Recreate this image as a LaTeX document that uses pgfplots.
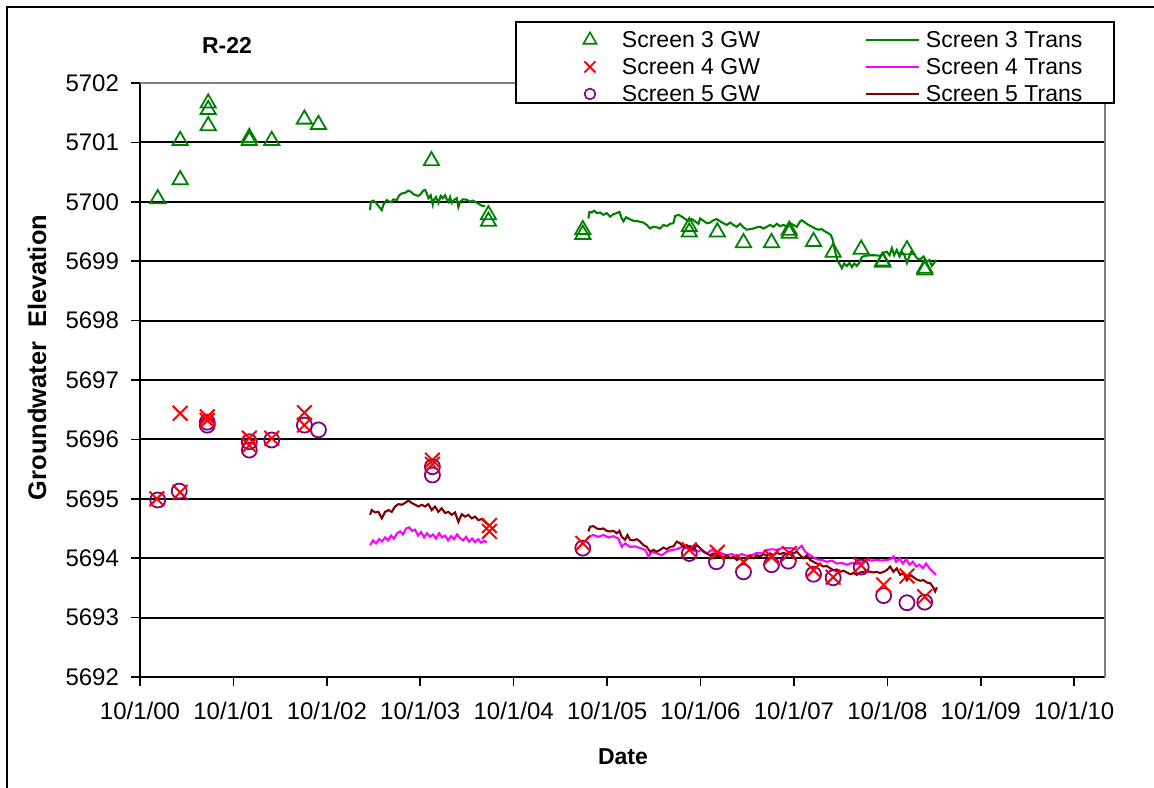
\documentclass[border=0pt]{standalone}
\usepackage{pgfplots}
\pgfplotsset{compat=1.18}
\usepackage{fontspec}
\setmainfont{Liberation Sans}
\definecolor{s3}{RGB}{0,128,0}
\definecolor{s4}{RGB}{255,0,0}
\definecolor{s5}{RGB}{128,0,128}
\definecolor{t4}{RGB}{255,0,255}
\definecolor{t5}{RGB}{128,0,0}
\definecolor{bord}{RGB}{128,128,128}
\newcommand{\tfont}{\fontsize{11.5}{13}\selectfont}
\newcommand{\kfont}{\fontsize{12}{14}\selectfont}

\pgfplotstableread{
x y
0.19 5700.05
0.43 5700.37
0.43 5701.03
0.73 5701.28
0.73 5701.55
0.73 5701.66
1.17 5701.08
1.17 5701.03
1.41 5701.03
1.76 5701.39
1.91 5701.30
3.12 5700.69
3.73 5699.78
3.73 5699.67
4.74 5699.53
4.74 5699.45
5.88 5699.58
5.88 5699.49
6.18 5699.49
6.46 5699.31
6.76 5699.31
6.95 5699.52
6.95 5699.47
7.21 5699.33
7.42 5699.15
7.72 5699.20
7.95 5699.00
7.95 5698.98
8.21 5699.19
8.40 5698.88
8.40 5698.85
}\sthreegw

\pgfplotstableread{
x y
0.18 5695.00
0.43 5696.44
0.43 5695.11
0.72 5696.38
0.72 5696.32
1.17 5696.02
1.17 5695.90
1.41 5696.02
1.76 5696.45
1.76 5696.24
3.13 5695.65
3.13 5695.58
3.74 5694.55
3.74 5694.45
4.74 5694.25
5.88 5694.14
6.18 5694.10
6.46 5693.94
6.76 5694.02
6.95 5694.08
7.21 5693.80
7.42 5693.68
7.72 5693.88
7.96 5693.55
8.21 5693.70
8.40 5693.35
}\sfourgw

\pgfplotstableread{
x y
0.19 5694.98
0.42 5695.13
0.72 5696.29
0.72 5696.24
1.17 5695.96
1.17 5695.82
1.41 5695.99
1.76 5696.24
1.91 5696.16
3.13 5695.54
3.13 5695.40
4.74 5694.17
5.88 5694.08
6.17 5693.94
6.46 5693.77
6.76 5693.89
6.94 5693.95
7.21 5693.73
7.42 5693.67
7.72 5693.85
7.96 5693.37
8.21 5693.25
8.40 5693.26
}\sfivegw

\pgfplotstableread{
x y
2.463 5699.86
2.470 5700.00
2.498 5700.02
2.527 5699.98
2.552 5699.93
2.588 5699.86
2.605 5699.95
2.641 5700.03
2.669 5700.00
2.695 5700.00
2.712 5700.04
2.748 5700.03
2.776 5700.11
2.802 5700.14
2.837 5700.15
2.873 5700.19
2.898 5700.17
2.926 5700.13
2.955 5700.11
2.980 5700.10
3.005 5700.13
3.033 5700.19
3.051 5700.20
3.070 5700.14
3.087 5700.06
3.112 5700.11
3.134 5699.95
3.148 5700.04
3.169 5700.08
3.194 5699.98
3.219 5700.10
3.241 5700.06
3.266 5700.11
3.284 5700.04
3.301 5700.00
3.319 5700.08
3.337 5699.98
3.362 5700.03
3.391 5700.06
3.408 5699.91
3.426 5700.00
3.455 5700.04
3.480 5700.04
3.504 5700.03
3.533 5700.00
3.562 5700.02
3.587 5700.00
3.611 5699.98
3.640 5699.95
3.669 5699.93
3.694 5699.93
}\sthreetransA

\pgfplotstableread{
x y
4.800 5699.72
4.811 5699.83
4.836 5699.82
4.861 5699.85
4.890 5699.81
4.925 5699.82
4.961 5699.78
4.996 5699.81
5.032 5699.75
5.068 5699.79
5.104 5699.81
5.132 5699.83
5.157 5699.72
5.175 5699.67
5.203 5699.74
5.239 5699.71
5.282 5699.68
5.336 5699.67
5.389 5699.65
5.425 5699.61
5.460 5699.55
5.496 5699.58
5.532 5699.57
5.567 5699.55
5.603 5699.61
5.639 5699.59
5.675 5699.63
5.710 5699.64
5.728 5699.76
5.764 5699.78
5.800 5699.75
5.835 5699.71
5.871 5699.68
5.907 5699.71
5.942 5699.67
5.978 5699.63
5.996 5699.72
6.031 5699.68
6.067 5699.64
6.103 5699.65
6.139 5699.69
6.174 5699.71
6.210 5699.67
6.245 5699.64
6.281 5699.61
6.317 5699.65
6.352 5699.61
6.388 5699.58
6.424 5699.63
6.460 5699.57
6.495 5699.53
6.531 5699.54
6.567 5699.55
6.603 5699.57
6.638 5699.58
6.674 5699.55
6.710 5699.58
6.745 5699.61
6.781 5699.58
6.817 5699.63
6.852 5699.59
6.888 5699.61
6.924 5699.58
6.959 5699.64
6.995 5699.61
7.031 5699.58
7.066 5699.67
7.084 5699.69
7.120 5699.65
7.155 5699.61
7.192 5699.58
7.227 5699.55
7.262 5699.53
7.298 5699.54
7.334 5699.50
7.369 5699.47
7.395 5699.44
7.416 5699.36
7.441 5699.16
7.470 5698.99
7.495 5698.94
7.513 5698.88
7.537 5698.96
7.566 5698.92
7.594 5698.97
7.620 5698.90
7.645 5698.96
7.673 5698.92
7.698 5698.97
7.727 5699.07
7.762 5699.09
7.816 5699.10
7.869 5699.10
7.923 5699.09
7.959 5699.14
7.994 5699.16
8.023 5699.10
8.048 5699.22
8.073 5699.10
8.101 5699.19
8.130 5699.08
8.155 5699.16
8.183 5699.10
8.209 5698.97
8.237 5699.09
8.262 5699.18
8.287 5699.12
8.316 5699.05
8.351 5699.03
8.387 5699.08
8.423 5698.99
8.451 5699.02
8.476 5698.92
8.501 5698.97
8.522 5699.02
}\sthreetransB

\pgfplotstableread{
x y
2.463 5694.22
2.495 5694.30
2.527 5694.25
2.559 5694.32
2.591 5694.28
2.623 5694.35
2.655 5694.30
2.687 5694.38
2.719 5694.33
2.752 5694.42
2.784 5694.45
2.816 5694.40
2.848 5694.50
2.880 5694.52
2.912 5694.46
2.944 5694.48
2.976 5694.38
3.009 5694.44
3.041 5694.35
3.073 5694.42
3.105 5694.36
3.137 5694.40
3.169 5694.33
3.201 5694.42
3.233 5694.35
3.266 5694.38
3.298 5694.30
3.330 5694.37
3.362 5694.32
3.394 5694.40
3.426 5694.34
3.458 5694.30
3.490 5694.36
3.522 5694.28
3.555 5694.33
3.587 5694.27
3.619 5694.32
3.651 5694.26
3.683 5694.29
3.715 5694.27
}\sfourtransA

\pgfplotstableread{
x y
4.783 5694.33
4.818 5694.37
4.853 5694.39
4.907 5694.36
4.961 5694.39
5.014 5694.35
5.068 5694.37
5.121 5694.33
5.157 5694.19
5.193 5694.25
5.246 5694.19
5.300 5694.20
5.353 5694.17
5.407 5694.14
5.443 5694.03
5.478 5694.11
5.532 5694.08
5.586 5694.05
5.639 5694.11
5.693 5694.14
5.746 5694.15
5.800 5694.19
5.853 5694.17
5.907 5694.14
5.961 5694.11
6.014 5694.14
6.067 5694.08
6.121 5694.14
6.174 5694.10
6.228 5694.08
6.281 5694.05
6.335 5694.07
6.388 5694.03
6.442 5694.07
6.495 5694.04
6.549 5694.05
6.603 5694.09
6.656 5694.08
6.710 5694.14
6.763 5694.15
6.817 5694.14
6.870 5694.17
6.924 5694.17
6.977 5694.17
7.031 5694.14
7.084 5694.21
7.120 5694.11
7.155 5694.07
7.192 5694.03
7.245 5693.98
7.298 5693.97
7.352 5693.94
7.406 5693.96
7.459 5693.91
7.513 5693.92
7.566 5693.89
7.620 5693.92
7.673 5693.90
7.727 5693.94
7.780 5693.97
7.834 5693.96
7.887 5693.97
7.941 5693.96
7.994 5693.97
8.030 5693.98
8.065 5694.03
8.094 5693.94
8.130 5694.00
8.166 5693.91
8.201 5693.98
8.237 5693.89
8.273 5693.94
8.308 5693.86
8.344 5693.89
8.380 5693.83
8.415 5693.91
8.451 5693.83
8.487 5693.77
8.522 5693.72
}\sfourtransB

\pgfplotstableread{
x y
2.463 5694.73
2.480 5694.81
2.516 5694.77
2.552 5694.78
2.588 5694.67
2.623 5694.78
2.659 5694.81
2.695 5694.78
2.730 5694.87
2.766 5694.91
2.802 5694.90
2.837 5694.93
2.873 5694.97
2.909 5694.93
2.944 5694.90
2.980 5694.87
3.016 5694.90
3.051 5694.87
3.087 5694.91
3.123 5694.81
3.158 5694.87
3.194 5694.78
3.230 5694.84
3.266 5694.76
3.301 5694.78
3.337 5694.73
3.373 5694.77
3.408 5694.61
3.444 5694.74
3.480 5694.70
3.515 5694.73
3.551 5694.67
3.587 5694.70
3.622 5694.64
3.658 5694.66
3.694 5694.61
3.729 5694.56
}\sfivetransA

\pgfplotstableread{
x y
4.800 5694.45
4.818 5694.53
4.853 5694.54
4.890 5694.50
4.925 5694.49
4.961 5694.50
4.996 5694.46
5.032 5694.45
5.068 5694.46
5.104 5694.42
5.132 5694.46
5.157 5694.36
5.193 5694.31
5.218 5694.39
5.246 5694.31
5.282 5694.30
5.318 5694.32
5.353 5694.28
5.389 5694.22
5.425 5694.19
5.460 5694.11
5.496 5694.14
5.532 5694.11
5.567 5694.14
5.603 5694.18
5.639 5694.15
5.675 5694.19
5.710 5694.20
5.746 5694.28
5.782 5694.25
5.817 5694.19
5.853 5694.22
5.889 5694.18
5.924 5694.15
5.961 5694.22
5.996 5694.17
6.031 5694.11
6.067 5694.08
6.103 5694.05
6.139 5694.08
6.174 5694.03
6.210 5694.04
6.245 5694.02
6.281 5694.05
6.317 5694.00
6.352 5694.02
6.388 5693.97
6.424 5694.00
6.460 5693.94
6.495 5693.98
6.531 5694.03
6.567 5694.00
6.603 5694.05
6.638 5694.03
6.674 5694.07
6.710 5694.04
6.745 5694.08
6.781 5694.05
6.817 5694.09
6.852 5694.07
6.888 5694.09
6.924 5694.07
6.959 5694.11
6.995 5694.08
7.031 5694.11
7.066 5694.05
7.102 5694.00
7.138 5694.05
7.173 5693.97
7.209 5693.94
7.245 5693.91
7.281 5693.89
7.316 5693.86
7.352 5693.87
7.388 5693.83
7.423 5693.80
7.459 5693.81
7.495 5693.77
7.530 5693.79
7.566 5693.76
7.602 5693.73
7.637 5693.75
7.673 5693.72
7.709 5693.76
7.744 5693.77
7.780 5693.79
7.816 5693.77
7.851 5693.76
7.887 5693.77
7.923 5693.75
7.959 5693.77
7.994 5693.80
8.030 5693.86
8.065 5693.77
8.101 5693.83
8.137 5693.72
8.172 5693.75
8.209 5693.63
8.244 5693.72
8.280 5693.68
8.316 5693.64
8.351 5693.62
8.387 5693.63
8.423 5693.59
8.458 5693.58
8.487 5693.52
8.512 5693.44
8.530 5693.51
}\sfivetransB

\begin{document}
\begin{tikzpicture}
\path[use as bounding box] (0,0) rectangle (577pt,393.5pt);
\draw[line width=1pt] (3.5pt,-2pt) -- (3.5pt,390pt) -- (580pt,390pt);
\begin{axis}[
  at={(70pt,55pt)}, anchor=south west, scale only axis,
  width=482.5pt, height=297pt,
  xmin=0, xmax=10.33, ymin=5692, ymax=5702,
  axis lines=left,
  axis line style={-, black, line width=1pt},
  x axis line style={line width=1.4pt},
  xtick={0,1,2,3,4,5,6,7,8,9,10},
  xticklabels={10/1/00,10/1/01,10/1/02,10/1/03,10/1/04,10/1/05,10/1/06,10/1/07,10/1/08,10/1/09,10/1/10},
  ytick={5692,5693,5694,5695,5696,5697,5698,5699,5700,5701},
  extra y ticks={5702},
  extra y tick style={grid=none},
  ymajorgrids,
  grid style={black, line width=1pt},
  tick align=outside,
  major tick length=4.5pt,
  tick style={black, line width=0.8pt},
  /pgf/number format/1000 sep={},
  /pgf/number format/assume math mode=true,
  tick label style={font=\kfont},
  x tick label style={yshift=-4.5pt},
  y tick label style={xshift=-2.5pt},
  legend columns=2,
  legend cell align=left,
  legend style={at={(0.3896,1.1027)}, anchor=north west, draw=black,
    line width=1pt, fill=white, inner sep=0pt, outer sep=0pt,
    row sep=0pt, column sep=0pt,
    nodes={draw=none, fill=none, inner sep=0pt, minimum height=0pt,
      text height=8.5pt, text depth=0.5pt, font=\tfont}},
  clip=false,
]
% Trans lines
\addplot[forget plot, s3, line width=1.05pt] table {\sthreetransA};
\addplot[forget plot, s3, line width=1.05pt] table {\sthreetransB};
\addplot[forget plot, t4, line width=1.05pt] table {\sfourtransA};
\addplot[forget plot, t4, line width=1.05pt] table {\sfourtransB};
\addplot[forget plot, t5, line width=1.05pt] table {\sfivetransA};
\addplot[forget plot, t5, line width=1.05pt] table {\sfivetransB};
% GW markers
\addplot[forget plot, only marks, mark=o, mark size=3.75pt, s5, mark options={line width=0.9pt}] table {\sfivegw};
\addplot[forget plot, only marks, mark=x, mark size=5.2pt, s4, mark options={line width=1pt}] table {\sfourgw};
\addplot[forget plot, only marks, mark=triangle, mark size=4.4pt, s3, mark options={line width=0.9pt}] table {\sthreegw};
% plot-area border (top and right)
\draw[bord, line width=1pt] (rel axis cs:0,1) -- (rel axis cs:1,1) -- (rel axis cs:1,0);
% legend
\addlegendimage{legend image code/.code={\path[draw=none, fill=none] (0pt,-4.5pt) rectangle (53pt,9pt); \draw[s3, fill=none, line width=0.8pt, mark size=3.8pt] plot[mark=triangle] coordinates {(37pt,0pt)};}}
\addlegendentry{\makebox[121.5pt][l]{Screen 3 GW}}
\addlegendimage{legend image code/.code={\path[draw=none, fill=none] (0pt,-4.5pt) rectangle (30pt,9pt); \draw[s3, line width=1pt] (0pt,0pt) -- (26.5pt,0pt);}}
\addlegendentry{\makebox[94pt][l]{Screen 3 Trans}}
\addlegendimage{legend image code/.code={\path[draw=none, fill=none] (0pt,-4.5pt) rectangle (53pt,9pt); \draw[s4, fill=none, line width=0.9pt, mark size=3.9pt] plot[mark=x] coordinates {(37pt,0pt)};}}
\addlegendentry{\makebox[121.5pt][l]{Screen 4 GW}}
\addlegendimage{legend image code/.code={\path[draw=none, fill=none] (0pt,-4.5pt) rectangle (30pt,9pt); \draw[t4, line width=1pt] (0pt,0pt) -- (26.5pt,0pt);}}
\addlegendentry{\makebox[94pt][l]{Screen 4 Trans}}
\addlegendimage{legend image code/.code={\path[draw=none, fill=none] (0pt,-4.5pt) rectangle (53pt,9pt); \draw[s5, fill=none, line width=0.8pt, mark size=2.7pt] plot[mark=o] coordinates {(37pt,0pt)};}}
\addlegendentry{\makebox[121.5pt][l]{Screen 5 GW}}
\addlegendimage{legend image code/.code={\path[draw=none, fill=none] (0pt,-4.5pt) rectangle (30pt,9pt); \draw[t5, line width=1pt] (0pt,0pt) -- (26.5pt,0pt);}}
\addlegendentry{\makebox[94pt][l]{Screen 5 Trans}}
\end{axis}
\node[font=\bfseries\fontsize{11.5}{13}\selectfont] at (113.5pt,371pt) {R-22};
\node[font=\bfseries\fontsize{12.7}{14}\selectfont, rotate=90] at (18.5pt,214.75pt) {Groundwater\ \ Elevation};
\node[font=\bfseries\fontsize{11.5}{13}\selectfont] at (311.5pt,15pt) {Date};
\end{tikzpicture}
\end{document}
